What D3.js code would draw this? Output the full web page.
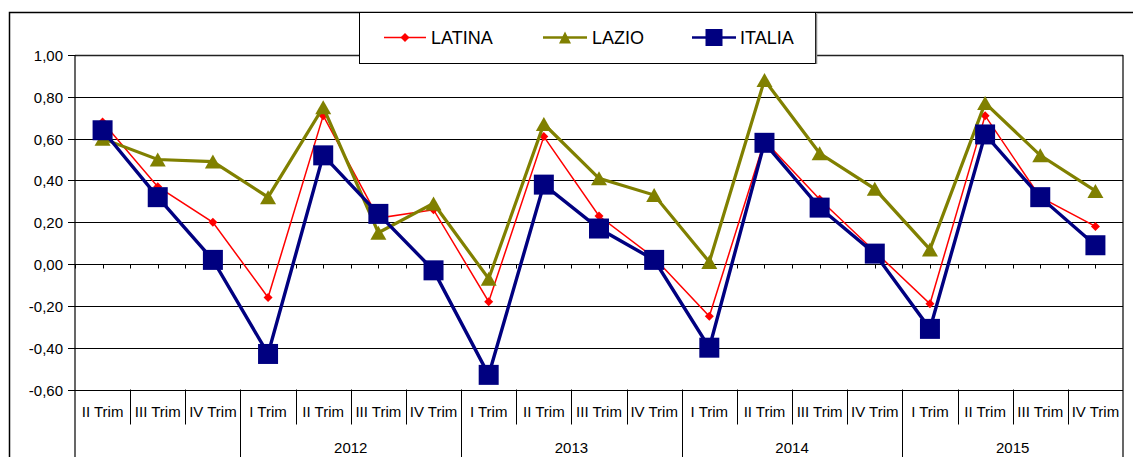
<!DOCTYPE html>
<html>
<head>
<meta charset="utf-8">
<script src="https://cdn.jsdelivr.net/npm/d3@7"></script>
<style>
  html, body { margin: 0; padding: 0; background: #fff; }
  svg { display: block; font-family: "Liberation Sans", Arial, sans-serif; }
</style>
</head>
<body>
<svg id="chart" width="1133" height="457"></svg>
<script>
// Quarterly labels (first level) and year groups (second level)
const quarters = ["II Trim", "III Trim", "IV Trim",
  "I Trim", "II Trim", "III Trim", "IV Trim",
  "I Trim", "II Trim", "III Trim", "IV Trim",
  "I Trim", "II Trim", "III Trim", "IV Trim",
  "I Trim", "II Trim", "III Trim", "IV Trim"];
const years = ["", "2012", "2013", "2014", "2015"];
const yearSpans = [3, 4, 4, 4, 4];

// Series values
const latina = [0.68, 0.37, 0.20, -0.16, 0.71, 0.22, 0.26, -0.18, 0.61, 0.23, 0.03, -0.25, 0.59, 0.31, 0.06, -0.19, 0.71, 0.32, 0.18];
const lazio  = [0.60, 0.50, 0.49, 0.32, 0.75, 0.15, 0.29, -0.07, 0.67, 0.41, 0.33, 0.01, 0.88, 0.53, 0.36, 0.07, 0.77, 0.52, 0.35];
const italia = [0.64, 0.32, 0.02, -0.43, 0.52, 0.24, -0.03, -0.53, 0.38, 0.17, 0.02, -0.40, 0.58, 0.27, 0.05, -0.31, 0.62, 0.32, 0.09];

const yTicks = [-0.6, -0.4, -0.2, 0, 0.2, 0.4, 0.6, 0.8, 1.0];

const svg = d3.select("#chart");
const plotLeft = 75, plotRight = 1123, plotTop = 55, plotBottom = 389.5;

const x = d3.scaleBand().domain(d3.range(quarters.length)).range([plotLeft, plotRight]).padding(0);
const y = d3.scaleLinear().domain([-0.6, 1.0]).range([plotBottom, plotTop]);
const cx = i => x(i) + x.bandwidth() / 2;
const crisp = v => Math.round(v) + 0.5;

const itLocale = d3.formatLocale({decimal: ",", thousands: ".", grouping: [3], currency: ["€", ""], minus: "-"});
const fmt = itLocale.format(".2f");

// Outer chart frame
svg.append("rect")
  .attr("x", 9.5).attr("y", 12.5).attr("width", 1140).attr("height", 470)
  .attr("fill", "#fff").attr("stroke", "#000").attr("stroke-width", 1.5);

// Y axis with gridlines
const yAxis = d3.axisLeft(y).tickValues(yTicks).tickFormat(fmt).tickSizeOuter(0).tickPadding(5).tickSize(7);
const gy = svg.append("g").attr("transform", `translate(${plotLeft},0)`).call(yAxis);
gy.select(".domain").remove();
gy.selectAll(".tick").attr("transform", d => `translate(0,${crisp(y(d))})`);
gy.selectAll(".tick line").attr("stroke", "#000");
gy.selectAll(".tick text")
  .attr("font-size", 15).attr("fill", "#000")
  .attr("font-family", "'Liberation Sans', Arial, sans-serif")
  .attr("x", -12).attr("dy", "0.35em");

svg.append("g").selectAll("line").data(yTicks).join("line")
  .attr("x1", plotLeft).attr("x2", plotRight)
  .attr("y1", d => crisp(y(d))).attr("y2", d => crisp(y(d)))
  .attr("stroke", d => d === 1.0 ? "#222" : "#000")
  .attr("stroke-width", d => d === 1.0 ? 1.6 : 1);

// Category axis along zero with small tick marks
const y0 = crisp(y(0));
const tickXs = [];
for (let i = 0; i < quarters.length; i++) { tickXs.push(x(i)); tickXs.push(cx(i)); }
svg.append("g").selectAll("line").data(tickXs).join("line")
  .attr("x1", d => crisp(d)).attr("x2", d => crisp(d))
  .attr("y1", y0).attr("y2", y0 + 4)
  .attr("stroke", "#000");

// Plot side borders extending through the category labels
[plotLeft, plotRight].forEach(v => {
  svg.append("line").attr("x1", crisp(v) - 0.5).attr("x2", crisp(v) - 0.5)
    .attr("y1", plotTop).attr("y2", 457).attr("stroke", "#000").attr("stroke-width", 1.2);
});

// Multi-level category labels
const groupStarts = [0];
yearSpans.forEach((s, k) => groupStarts.push(groupStarts[k] + s));
const gcat = svg.append("g");
for (let i = 1; i < quarters.length; i++) {
  const isGroup = groupStarts.includes(i);
  gcat.append("line")
    .attr("x1", crisp(x(i))).attr("x2", crisp(x(i)))
    .attr("y1", plotBottom).attr("y2", isGroup ? 457 : 424.5)
    .attr("stroke", "#000");
}
gcat.selectAll("text.q").data(quarters).join("text")
  .attr("class", "q")
  .attr("x", (d, i) => cx(i)).attr("y", 417)
  .attr("text-anchor", "middle").attr("font-size", 15).attr("fill", "#000")
  .text(d => d);
gcat.selectAll("text.yr").data(years).join("text")
  .attr("class", "yr")
  .attr("x", (d, k) => (x(groupStarts[k]) + x(groupStarts[k + 1] - 1) + x.bandwidth()) / 2)
  .attr("y", 453)
  .attr("text-anchor", "middle").attr("font-size", 15).attr("fill", "#000")
  .text(d => d);

// Marker shapes
const diamond = s => `M0,${-s}L${s},0L0,${s}L${-s},0Z`;
const triangle = (w, h) => `M0,${-h / 2}L${w / 2},${h / 2}L${-w / 2},${h / 2}Z`;
const square = s => `M${-s / 2},${-s / 2}h${s}v${s}h${-s}Z`;

const series = [
  {name: "LATINA", values: latina, color: "#ff0000", width: 1.5, marker: diamond(4.5)},
  {name: "LAZIO", values: lazio, color: "#808000", width: 3.2, marker: triangle(16, 14)},
  {name: "ITALIA", values: italia, color: "#000080", width: 3.4, marker: square(20)}
];

const line = d3.line().x((d, i) => cx(i)).y(d => y(d));
series.forEach(s => {
  const g = svg.append("g");
  g.append("path").datum(s.values)
    .attr("d", line).attr("fill", "none")
    .attr("stroke", s.color).attr("stroke-width", s.width)
    .attr("stroke-linejoin", "miter");
  g.selectAll("path.m").data(s.values).join("path")
    .attr("class", "m")
    .attr("transform", (d, i) => `translate(${cx(i)},${y(d)})`)
    .attr("d", s.marker).attr("fill", s.color);
});

// Legend
const lg = svg.append("g");
lg.append("rect").attr("x", 359.5).attr("y", 12.5).attr("width", 456).attr("height", 51)
  .attr("fill", "#fff").attr("stroke", "#000");
lg.append("line").attr("x1", 816.5).attr("x2", 816.5).attr("y1", 14).attr("y2", 64)
  .attr("stroke", "#888").attr("stroke-width", 1.5);
const legendItems = [
  {s: series[0], x0: 384, x1: 426, tx: 431, marker: diamond(4.5)},
  {s: series[1], x0: 543, x1: 587, tx: 592, marker: triangle(12, 12)},
  {s: series[2], x0: 692, x1: 736, tx: 740, marker: square(17)}
];
legendItems.forEach(it => {
  const my = 37.5;
  lg.append("line").attr("x1", it.x0).attr("x2", it.x1).attr("y1", my).attr("y2", my)
    .attr("stroke", it.s.color).attr("stroke-width", it.s.width === 1.5 ? 1.5 : 2.5);
  lg.append("path").attr("transform", `translate(${(it.x0 + it.x1) / 2},${my})`)
    .attr("d", it.marker).attr("fill", it.s.color);
  lg.append("text").attr("x", it.tx).attr("y", 43.5)
    .attr("font-size", 18).attr("fill", "#000").text(it.s.name);
});
</script>
</body>
</html>
